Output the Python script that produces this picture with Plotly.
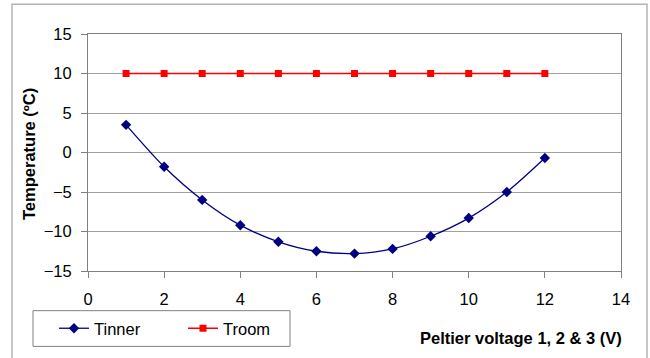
import plotly.graph_objects as go

# Peltier voltage steps (V)
voltage = [1, 2, 3, 4, 5, 6, 7, 8, 9, 10, 11, 12]
# Inner temperature (°C)
t_inner = [3.5, -1.8, -6.0, -9.2, -11.3, -12.5, -12.8, -12.2, -10.6, -8.3, -5.0, -0.7]
# Room temperature (°C)
t_room = [10, 10, 10, 10, 10, 10, 10, 10, 10, 10, 10, 10]

x_ticks = [0, 2, 4, 6, 8, 10, 12, 14]
y_ticks = [-15, -10, -5, 0, 5, 10, 15]

FONT = "Liberation Sans, Arial, sans-serif"

# plot area in pixels: x 88..621, y 34..273
L, R, T, B = 88, 621, 34, 273
PW, PH = R - L, B - T


def px(x):
    return (x - L) / PW


def py(y):
    return (B - y) / PH


fig = go.Figure()
fig.add_trace(go.Scatter(
    x=voltage, y=t_inner, name="Tinner", mode="lines+markers",
    line=dict(color="#000080", width=1.3, shape="spline", smoothing=0.8),
    marker=dict(symbol="diamond", size=8, color="#000080"),
))
fig.add_trace(go.Scatter(
    x=voltage, y=t_room, name="Troom", mode="lines+markers",
    line=dict(color="#FF0000", width=1.5),
    marker=dict(symbol="square", size=7, color="#FF0000"),
))

fig.update_layout(
    width=650, height=358,
    margin=dict(l=L, r=650 - R, t=T, b=358 - B),
    paper_bgcolor="white", plot_bgcolor="white",
    font=dict(family=FONT, size=16, color="#000000"),
    showlegend=True,
    legend=dict(
        orientation="h", x=px(54), xanchor="left", y=py(331), yanchor="middle",
        borderwidth=0, bgcolor="rgba(0,0,0,0)",
        font=dict(family=FONT, size=16.5),
        entrywidth=84, entrywidthmode="pixels",
        itemwidth=30,
    ),
    xaxis=dict(
        range=[0, 14], tickvals=x_ticks, ticks="outside", ticklen=6,
        tickcolor="#808080", showline=True, linecolor="#808080", linewidth=1,
        mirror=True, showgrid=False, zeroline=False,
        tickfont=dict(size=16.5), ticklabelstandoff=7,
    ),
    yaxis=dict(
        range=[-15, 15], tickvals=y_ticks, ticks="outside", ticklen=6,
        tickcolor="#808080", showline=True, linecolor="#808080", linewidth=1,
        mirror=True, showgrid=True, gridcolor="#a0a0a0", gridwidth=1,
        zeroline=False, tickfont=dict(size=16.5), ticklabelstandoff=6,
    ),
    annotations=[
        dict(text="<b>Peltier voltage 1, 2 & 3 (V)</b>", xref="paper", yref="paper",
             x=px(624), y=py(341), xanchor="right", yanchor="middle", showarrow=False,
             font=dict(family=FONT, size=16.5)),
        dict(text="<b>Temperature (ºC)</b>", xref="paper", yref="paper",
             x=px(29), y=py(155), xanchor="center", yanchor="middle", textangle=-90,
             showarrow=False, font=dict(family=FONT, size=16.5)),
    ],
    shapes=[
        # chart frame
        dict(type="rect", xref="paper", yref="paper",
             x0=px(12), x1=px(647), y0=py(364), y1=py(4),
             line=dict(color="#b4b4b4", width=1.5), fillcolor="rgba(0,0,0,0)", layer="below"),
        # legend frame
        dict(type="rect", xref="paper", yref="paper",
             x0=px(33), x1=px(290), y0=py(349), y1=py(313),
             line=dict(color="#808080", width=1), fillcolor="rgba(0,0,0,0)", layer="below"),
    ],
)

fig.write_html("out.html")
